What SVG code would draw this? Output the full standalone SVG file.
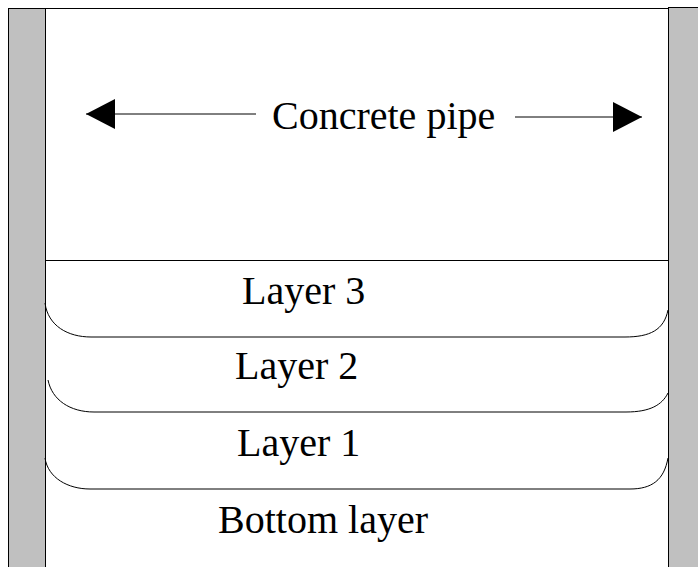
<svg xmlns="http://www.w3.org/2000/svg" width="698" height="567" viewBox="0 0 698 567">
<style>
.wall{fill:#c0c0c0;stroke:#000;stroke-width:1}
.ln{fill:none;stroke:#000;stroke-width:1}
.t{font-family:"Liberation Serif","Times New Roman",serif;font-size:40px;fill:#000}
</style>
<defs>
<marker id="ah" markerWidth="30" markerHeight="30" refX="29" refY="15" orient="auto" markerUnits="userSpaceOnUse">
<path d="M0,0 L29,15 L0,30 Z" fill="#000"/>
</marker>
</defs>
<rect width="698" height="567" fill="#fff"/>
<g id="pipe">
<line class="ln" x1="8" y1="8.5" x2="668" y2="8.5"/>
<rect class="wall" x="8.5" y="8.5" width="37" height="560"/>
<rect class="wall" x="668.5" y="7.5" width="32" height="562"/>
</g>
<g id="layer-lines">
<line class="ln" x1="45" y1="260.5" x2="668" y2="260.5"/>
<path class="ln" d="M45,303 C48,326 68,337 91,337 L625,337 C650,337 664,330 668,310"/>
<path class="ln" d="M48,380 C52,400 70,412 94,412 L626,412 C650,412 662,405 668,393"/>
<path class="ln" d="M45,458 C48,478 68,489 90,489 L630,489 C652,489 664,480 668,458"/>
</g>
<g id="connectors">
<line class="ln" x1="256" y1="114" x2="86" y2="114" marker-end="url(#ah)"/>
<line class="ln" x1="515" y1="117" x2="642" y2="117" marker-end="url(#ah)"/>
</g>
<g id="label-pipe"><text class="t" x="272" y="129">Concrete pipe</text></g>
<g id="layer3"><text class="t" x="242" y="304">Layer 3</text></g>
<g id="layer2"><text class="t" x="235" y="379">Layer 2</text></g>
<g id="layer1"><text class="t" x="237" y="456">Layer 1</text></g>
<g id="bottom"><text class="t" x="218" y="533">Bottom layer</text></g>
</svg>
